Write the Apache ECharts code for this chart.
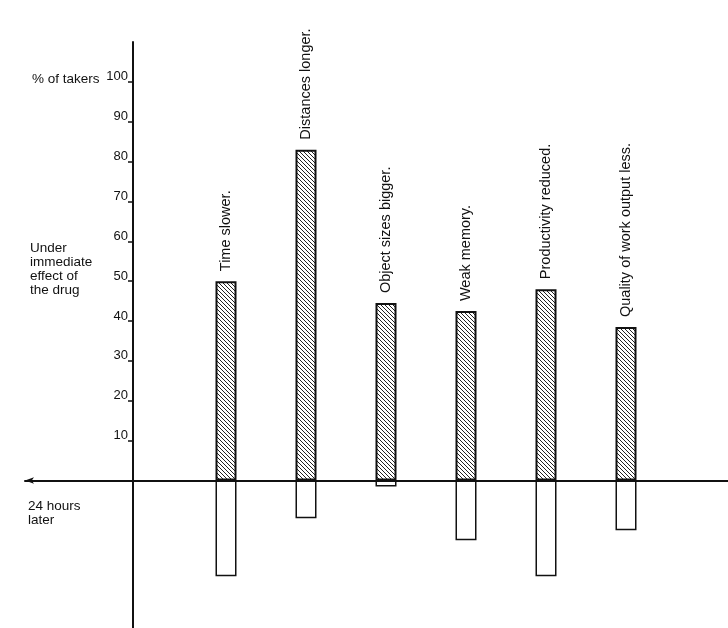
<!DOCTYPE html>
<html>
<head>
<meta charset="utf-8">
<script src="https://cdn.jsdelivr.net/npm/echarts@6/dist/echarts.min.js"></script>
<style>
  html, body { margin: 0; background: #fff; }
  #chart { width: 728px; height: 628px; }
</style>
</head>
<body>
<div id="chart"></div>
<script>
// data (% of takers)
const effects = ["Time slower.", "Distances longer.", "Object sizes bigger.", "Weak memory.", "Productivity reduced.", "Quality of work output less."];
const immediate = [50, 83, 44.5, 42.5, 48, 38.5];
const dayAfter = [-24, -9.5, -1.5, -15, -24, -12.5];
const tickValues = [10, 20, 30, 40, 50, 60, 70, 80, 90, 100];

const ink = "#111";
const font = "Liberation Sans";

// hatch pattern for the "immediate" bars
const makeHatch = () => {
  const c = document.createElement("canvas");
  c.width = 4;
  c.height = 4;
  const ctx = c.getContext("2d");
  ctx.fillStyle = "#fff";
  ctx.fillRect(0, 0, 4, 4);
  ctx.strokeStyle = "#222";
  ctx.lineWidth = 1;
  for (const k of [-4, 0, 4]) {
    ctx.beginPath();
    ctx.moveTo(k, 0);
    ctx.lineTo(k + 4, 4);
    ctx.stroke();
  }
  return c;
};

const textStyle = { fontSize: 13.5, lineHeight: 14, fontWeight: "normal", color: ink, fontFamily: font };

const option = {
  backgroundColor: "#fff",
  animation: false,
  title: [
    { text: "% of takers", left: 32, top: 72, padding: 0, textStyle },
    { text: "Under\nimmediate\neffect of\nthe drug", left: 30, top: 241, padding: 0, textStyle },
    { text: "24 hours\nlater", left: 28, top: 499, padding: 0, textStyle }
  ],
  grid: [
    { left: 186, right: 62, top: 42, bottom: -2 },
    { left: 25, right: 0, top: 42, bottom: -2 }
  ],
  xAxis: [
    {
      gridIndex: 0,
      type: "category",
      data: effects,
      axisLine: { show: false },
      axisTick: { show: false },
      axisLabel: { show: false }
    },
    {
      gridIndex: 1,
      type: "value",
      min: 0,
      max: 1,
      axisLine: { show: true, onZero: true, symbol: ["arrow", "none"], symbolSize: [5, 9], lineStyle: { color: ink, width: 2 } },
      axisTick: { show: false },
      axisLabel: { show: false },
      splitLine: { show: false }
    }
  ],
  yAxis: [
    {
      gridIndex: 0,
      type: "value",
      min: -37,
      max: 110,
      offset: 53,
      axisLine: { show: true, lineStyle: { color: ink, width: 2 } },
      axisTick: { show: true, customValues: tickValues, length: 5, lineStyle: { color: ink, width: 1.5 } },
      axisLabel: {
        customValues: tickValues,
        margin: 5,
        verticalAlign: "bottom",
        lineHeight: 10,
        fontSize: 13,
        color: ink,
        fontFamily: font
      },
      splitLine: { show: false }
    },
    {
      gridIndex: 1,
      type: "value",
      min: -37,
      max: 110,
      show: false
    }
  ],
  series: [
    {
      name: "Under immediate effect of the drug",
      type: "bar",
      xAxisIndex: 0,
      yAxisIndex: 0,
      data: immediate,
      barWidth: 21,
      barGap: "-100%",
      itemStyle: { color: { image: makeHatch(), repeat: "repeat" }, borderColor: ink, borderWidth: 2 },
      label: {
        show: true,
        position: "top",
        rotate: 90,
        align: "left",
        verticalAlign: "middle",
        distance: 10,
        fontSize: 14.5,
        color: ink,
        fontFamily: font,
        formatter: p => effects[p.dataIndex]
      }
    },
    {
      name: "24 hours later",
      type: "bar",
      xAxisIndex: 0,
      yAxisIndex: 0,
      data: dayAfter,
      barWidth: 21,
      barGap: "-100%",
      itemStyle: { color: "#fff", borderColor: ink, borderWidth: 1.5 }
    }
  ]
};

const chart = echarts.init(document.getElementById("chart"));
chart.setOption(option);
</script>
</body>
</html>
